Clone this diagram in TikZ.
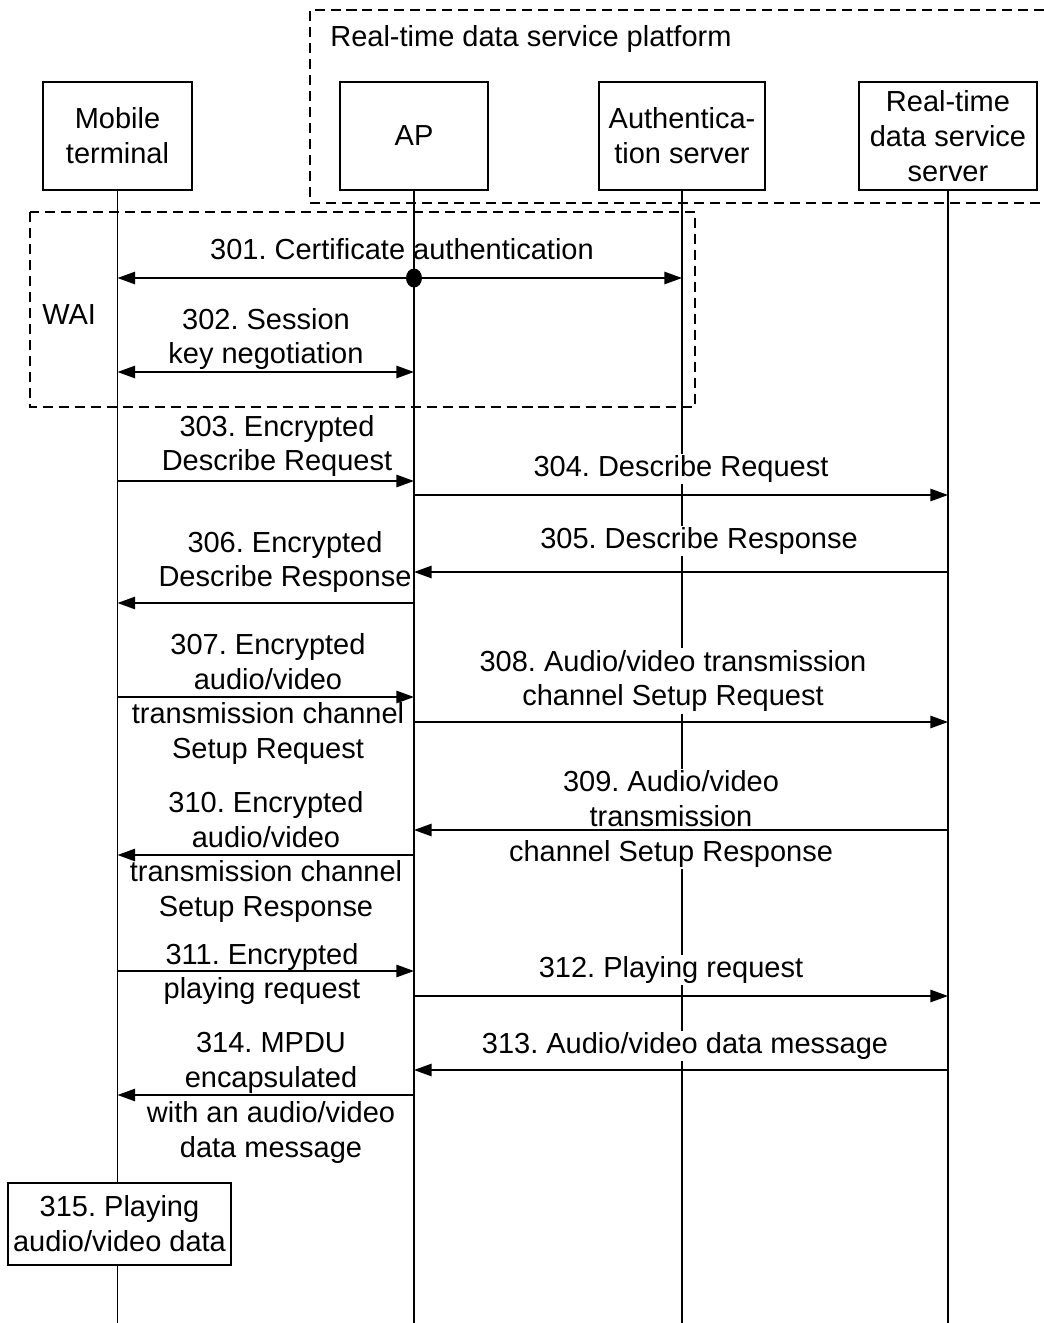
\documentclass[tikz,border=0pt]{standalone}
\usepackage{fontspec}
\setmainfont{Liberation Sans}
\frenchspacing
\usetikzlibrary{arrows.meta, positioning}
\tikzset{
    entity/.style={draw, line width=1pt, align=center, inner sep=2pt},
    lbl/.style={align=center, fill=white, inner sep=1pt},
    msg/.style={line width=1pt, -{Triangle[length=10pt,width=7pt]}},
    dmsg/.style={line width=1pt, {Triangle[length=10pt,width=7pt]}-{Triangle[length=10pt,width=7pt]}},
    life/.style={line width=0.7pt},
    frame/.style={dash pattern=on 5.7pt off 3.4pt, line width=0.9pt},
}

\begin{document}
\begin{tikzpicture}[x=0.02cm, y=-0.02cm, font=\fontsize{16.5}{19.9}\selectfont]
    \useasboundingbox (0,0) rectangle (1044,1323);

    % dashed groups
    \draw[frame] (1044,10) -- (310,10) -- (310,203) -- (1044,203);
    \node[anchor=west, inner sep=0pt] (platform) at (330,39) {Real-time data service platform};
    \draw[frame] (30,212) rectangle (695,407);
    \node[anchor=west, inner sep=0pt] (wai) at (42,315) {WAI};

    % entities
    \node[entity, minimum width=2.98cm, minimum height=2.16cm] (mt) at (117.5,136) {Mobile\\terminal};
    \node[entity, minimum width=2.96cm, minimum height=2.16cm] (ap) at (414,136) {AP};
    \node[entity, minimum width=3.32cm, minimum height=2.16cm] (as) at (682,136) {Authentica-\\tion server};
    \node[entity, minimum width=3.56cm, minimum height=2.16cm] (rt) at (948,136) {Real-time\\data service\\server};
    \node[entity, minimum width=4.46cm, minimum height=1.64cm] (play) at (119.5,1224) {315. Playing\\audio/video data};

    \draw[life] (as.south) -- (as.south |- 0,1323);

    % message labels
    \node[lbl] (l301) at (402,249) {301. Certificate authentication};
    \node[lbl] (l302) at (266,339) {302. Session\\key negotiation};
    \node[lbl] (l303) at (277,446) {303. Encrypted\\Describe Request};
    \node[lbl] (l304) at (681,469) {304. Describe Request};
    \node[lbl] (l305) at (699,541) {305. Describe Response};
    \node[lbl] (l306) at (285,562) {306. Encrypted\\Describe Response};
    \node[lbl] (l307) at (268,699) {307. Encrypted\\audio/video\\transmission channel\\Setup Request};
    \node[lbl] (l308) at (673,681) {308. Audio/video transmission\\channel Setup Request};
    \node[lbl] (l309) at (671,819) {309. Audio/video\\transmission\\channel Setup Response};
    \node[lbl] (l310) at (266,857) {310. Encrypted\\audio/video\\transmission channel\\Setup Response};
    \node[lbl] (l311) at (262,974) {311. Encrypted\\playing request};
    \node[lbl] (l312) at (671,970) {312. Playing request};
    \node[lbl] (l313) at (685,1046) {313. Audio/video data message};
    \node[lbl] (l314) at (271,1098) {314. MPDU\\encapsulated\\with an audio/video\\data message};

    % lifelines
    \draw[line width=1.1pt] (mt.south) -- (mt.south |- play.north);
    \draw[line width=1.1pt] (mt.south |- play.south) -- (mt.south |- 0,1323);
    \draw[life] (ap.south) -- (ap.south |- 0,1323);
    \draw[life] (rt.south) -- (rt.south |- 0,1323);

    % messages
    \draw[dmsg] (mt.south |- 0,278) -- (as.south |- 0,278);
    \fill (ap.south |- 0,278) ellipse [x radius=0.16cm, y radius=0.19cm];
    \draw[dmsg] (mt.south |- 0,372) -- (ap.south |- 0,372);
    \draw[msg] (mt.south |- 0,481) -- (ap.south |- 0,481);
    \draw[msg] (ap.south |- 0,495) -- (rt.south |- 0,495);
    \draw[msg] (rt.south |- 0,572) -- (ap.south |- 0,572);
    \draw[msg] (ap.south |- 0,603) -- (mt.south |- 0,603);
    \draw[msg] (mt.south |- 0,697) -- (ap.south |- 0,697);
    \draw[msg] (ap.south |- 0,722) -- (rt.south |- 0,722);
    \draw[msg] (rt.south |- 0,830) -- (ap.south |- 0,830);
    \draw[msg] (ap.south |- 0,855) -- (mt.south |- 0,855);
    \draw[msg] (mt.south |- 0,971) -- (ap.south |- 0,971);
    \draw[msg] (ap.south |- 0,996) -- (rt.south |- 0,996);
    \draw[msg] (rt.south |- 0,1070) -- (ap.south |- 0,1070);
    \draw[msg] (ap.south |- 0,1095) -- (mt.south |- 0,1095);
\end{tikzpicture}
\end{document}
